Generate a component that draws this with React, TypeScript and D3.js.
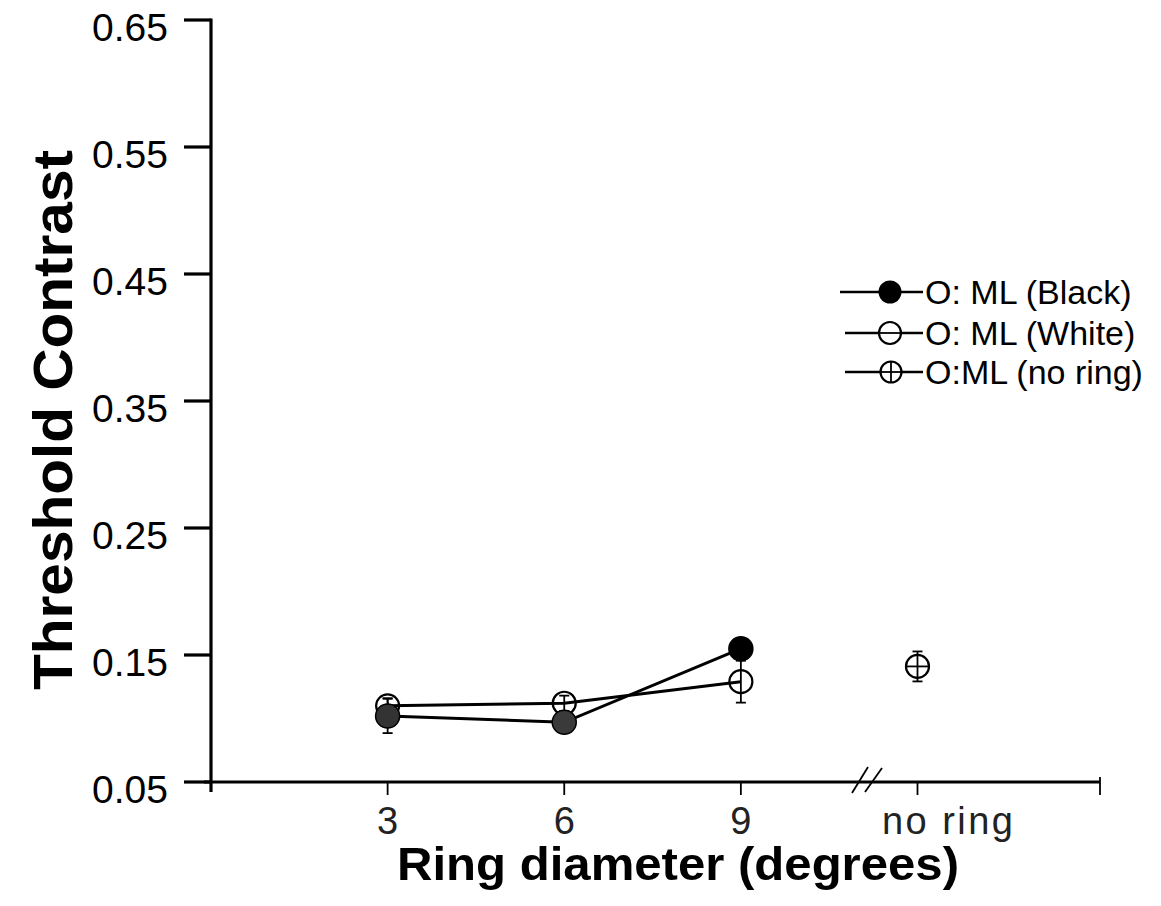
import React from "react";
import * as d3 from "d3";

// ---- data ----
const ringDiameters = [3, 6, 9];
const xTickValues = [3, 6, 9, 12];
const xTickLabels = ["3", "6", "9", "no ring"];
const yTickValues = [0.05, 0.15, 0.25, 0.35, 0.45, 0.55, 0.65];
const yTickLabels = ["0.05", "0.15", "0.25", "0.35", "0.45", "0.55", "0.65"];
const blackValues = [0.102, 0.097, 0.155];
const blackErrors = [0.0135, 0.006, 0.006];
const whiteValues = [0.110, 0.112, 0.129];
const whiteErrors = [0.006, 0.006, 0.0165];
const noRingX = 12;
const noRingValue = 0.141;
const noRingError = 0.0118;
const legendLabels = ["O: ML (Black)", "O: ML (White)", "O:ML (no ring)"];

const W = 1161;
const H = 906;
const FONT = "'Liberation Sans', Arial, Helvetica, sans-serif";

export default function App() {
  const x = d3.scaleLinear().domain([0, 15.1]).range([211, 1100]);
  const y = d3.scaleLinear().domain([0.05, 0.65]).range([782, 20]);
  const line = d3
    .line<number>()
    .x((_, i) => x(ringDiameters[i]))
    .y((d) => y(d));

  const errBar = (cx: number, v: number, e: number, key: string) => {
    const y1 = y(v + e);
    const y2 = y(v - e);
    return (
      <g key={key} stroke="#000" strokeWidth={1.8}>
        <line x1={cx} x2={cx} y1={y1} y2={y2} />
        <line x1={cx - 5} x2={cx + 5} y1={y1} y2={y1} />
        <line x1={cx - 5} x2={cx + 5} y1={y2} y2={y2} />
      </g>
    );
  };

  const blackFills = ["#333", "#3a3a3a", "#000"];
  const legendRowsY = [292, 333, 372];

  return (
    <div style={{ position: "absolute", left: 0, top: 0 }}>
      <svg width={W} height={H} viewBox={`0 0 ${W} ${H}`} style={{ display: "block", background: "#fff" }}>
        <rect width={W} height={H} fill="#fff" />
        {/* Y axis */}
        <line x1={211} x2={211} y1={y(0.65) - 1.5} y2={792} stroke="#000" strokeWidth={3.2} />
        {yTickValues.map((v, i) => (
          <g key={"yt" + i}>
            <line x1={184} x2={211} y1={y(v)} y2={y(v)} stroke="#000" strokeWidth={3.2} />
            <text x={168} y={y(v) + 21} textAnchor="end" fontFamily={FONT} fontSize={39} fill="#000">
              {yTickLabels[i]}
            </text>
          </g>
        ))}
        {/* X axis */}
        <line x1={204} x2={x(15.1)} y1={782} y2={782} stroke="#000" strokeWidth={3.2} />
        {xTickValues.map((v, i) => (
          <line key={"xt" + i} x1={x(v)} x2={x(v)} y1={782} y2={795} stroke="#000" strokeWidth={1.8} />
        ))}
        <line x1={x(15.1)} x2={x(15.1)} y1={777} y2={795} stroke="#000" strokeWidth={1.8} />
        {/* axis break */}
        <line x1={852} x2={868} y1={793} y2={767} stroke="#000" strokeWidth={1.8} />
        <line x1={865} x2={882} y1={792} y2={768} stroke="#000" strokeWidth={1.8} />
        {xTickValues.map((v, i) =>
          i < 3 ? (
            <text key={"xl" + i} x={x(v)} y={834} textAnchor="middle" fontFamily={FONT} fontSize={38} fill="#222">
              {xTickLabels[i]}
            </text>
          ) : (
            <text
              key={"xl" + i}
              x={882}
              y={834}
              textAnchor="start"
              fontFamily={FONT}
              fontSize={38}
              fill="#222"
              textLength={131}
              lengthAdjust="spacing"
            >
              {xTickLabels[i]}
            </text>
          )
        )}
        {/* axis titles */}
        <text
          x={678}
          y={880}
          textAnchor="middle"
          fontFamily={FONT}
          fontWeight="bold"
          fontSize={47}
          fill="#000"
          textLength={562}
          lengthAdjust="spacingAndGlyphs"
        >
          Ring diameter (degrees)
        </text>
        <text
          transform={`translate(72, 420) rotate(-90)`}
          textAnchor="middle"
          fontFamily={FONT}
          fontWeight="bold"
          fontSize={55}
          fill="#000"
          textLength={540}
          lengthAdjust="spacingAndGlyphs"
        >
          Threshold Contrast
        </text>

        {/* series lines */}
        <path d={line(whiteValues) || ""} fill="none" stroke="#000" strokeWidth={3} />
        <path d={line(blackValues) || ""} fill="none" stroke="#000" strokeWidth={3} />

        {/* error bars */}
        {whiteValues.map((v, i) => errBar(x(ringDiameters[i]), v, whiteErrors[i], "we" + i))}
        {blackValues.map((v, i) => errBar(x(ringDiameters[i]), v, blackErrors[i], "be" + i))}

        {/* white points */}
        {whiteValues.map((v, i) => (
          <circle key={"wp" + i} cx={x(ringDiameters[i])} cy={y(v)} r={11.5} fill="none" stroke="#000" strokeWidth={2.2} />
        ))}
        {/* black points */}
        {blackValues.map((v, i) => (
          <circle key={"bp" + i} cx={x(ringDiameters[i])} cy={y(v)} r={12} fill={blackFills[i]} stroke="#000" strokeWidth={1.5} />
        ))}

        {/* no ring point */}
        {errBar(x(noRingX), noRingValue, noRingError, "nre")}
        <circle cx={x(noRingX)} cy={y(noRingValue)} r={11.5} fill="none" stroke="#000" strokeWidth={2.2} />
        <line
          x1={x(noRingX) - 11}
          x2={x(noRingX) + 11}
          y1={y(noRingValue)}
          y2={y(noRingValue)}
          stroke="#000"
          strokeWidth={1.8}
        />

        {/* legend */}
        {legendLabels.map((lab, i) => {
          const ly = legendRowsY[i];
          const cx = 890;
          return (
            <g key={"lg" + i}>
              <line x1={i === 0 ? 840 : 845} x2={923} y1={ly} y2={ly} stroke="#000" strokeWidth={2.5} />
              {i === 0 && <circle cx={cx} cy={ly} r={11.5} fill="#000" />}
              {i === 1 && <circle cx={cx} cy={ly} r={11} fill="#fff" stroke="#000" strokeWidth={2.2} />}
              {i === 1 && <line x1={cx - 10} x2={cx + 10} y1={ly} y2={ly} stroke="#000" strokeWidth={1.8} />}
              {i === 2 && (
                <g>
                  <circle cx={cx + 1} cy={ly} r={10.5} fill="#fff" stroke="#000" strokeWidth={2.2} />
                  <line x1={cx - 9} x2={cx + 11} y1={ly} y2={ly} stroke="#000" strokeWidth={1.8} />
                  <line x1={cx + 1} x2={cx + 1} y1={ly - 10} y2={ly + 10} stroke="#000" strokeWidth={1.8} />
                </g>
              )}
              <text x={925} y={ly + 12} fontFamily={FONT} fontSize={34} fill="#000">
                {lab}
              </text>
            </g>
          );
        })}
      </svg>
    </div>
  );
}
